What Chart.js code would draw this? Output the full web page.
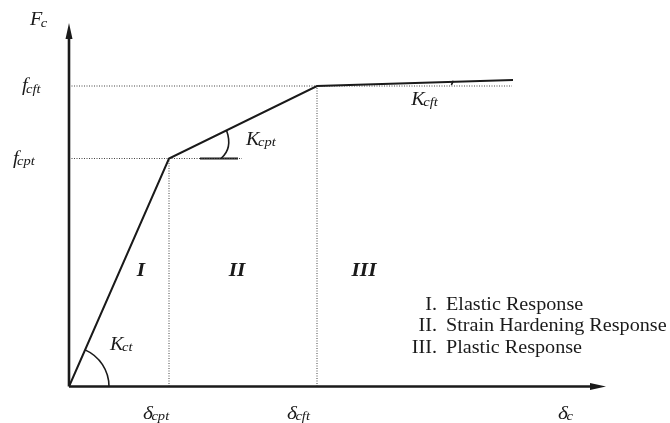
<!DOCTYPE html>
<html>
<head>
<meta charset="utf-8">
<script src="https://cdn.jsdelivr.net/npm/chart.js@4/dist/chart.umd.min.js"></script>
<style>
  html, body { margin: 0; padding: 0; background: #fff; }
  #wrap { width: 670px; height: 423px; }
</style>
</head>
<body>
<div id="wrap"><canvas id="chart"></canvas></div>
<script>
// schematic force-displacement curve (arbitrary units)
const displacement = [0, 10.0, 24.8, 44.4];
const force = [0, 22.8, 30.05, 30.65];

// tick labels [main, subscript]
const xTickLabels = [['δ', 'cpt'], ['δ', 'cft']];
const yTickLabels = [['f', 'cpt'], ['f', 'cft']];
const xTitle = ['δ', 'c'];
const yTitle = ['F', 'c'];

const stiffnessLabels = [['K', 'ct'], ['K', 'cpt'], ['K', 'cft']];
const regionLabels = ['I', 'II', 'III'];
const legendNumerals = ['I.', 'II.', 'III.'];
const legendItems = ['Elastic Response', 'Strain Hardening Response', 'Plastic Response'];

const X_MAX = 53.7;
const Y_MAX = 36.35;
const SERIF = '"Liberation Serif", "Times New Roman", serif';
const STRETCH = 1.12; // the figure's text is slightly wide

const curve = displacement.map((d, i) => ({ x: d, y: force[i] }));

const guide = (points) => ({
  data: points,
  borderColor: '#444',
  borderWidth: 1,
  borderDash: [1, 1.5],
  pointRadius: 0,
});

function wideText(ctx, text, x, y, align) {
  const w = ctx.measureText(text).width * STRETCH;
  let left = x;
  if (align === 'right') left = x - w;
  if (align === 'center') left = x - w / 2;
  ctx.save();
  ctx.translate(left, y);
  ctx.scale(STRETCH, 1);
  ctx.textAlign = 'left';
  ctx.fillText(text, 0, 0);
  ctx.restore();
  return w;
}

function subText(ctx, pair, x, y, size, subSize) {
  ctx.font = `italic ${size}px ${SERIF}`;
  const w = wideText(ctx, pair[0], x, y);
  ctx.font = `italic ${subSize}px ${SERIF}`;
  wideText(ctx, pair[1], x + w - 1.5, y + 1.5);
}

const annotations = {
  id: 'annotations',
  afterDatasetsDraw(chart) {
    const { ctx, scales: { x, y } } = chart;
    const px = (v) => x.getPixelForValue(v);
    const py = (v) => y.getPixelForValue(v);
    const ox = px(0), oy = py(0);
    const xEnd = px(X_MAX), yEnd = py(Y_MAX);

    ctx.save();
    ctx.fillStyle = '#1a1a1a';
    ctx.strokeStyle = '#1a1a1a';

    // axes with arrows
    ctx.lineWidth = 2.6;
    ctx.beginPath();
    ctx.moveTo(ox, oy);
    ctx.lineTo(xEnd - 10, oy);
    ctx.moveTo(ox, oy);
    ctx.lineTo(ox, yEnd + 10);
    ctx.stroke();
    ctx.beginPath();
    ctx.moveTo(xEnd, oy);
    ctx.lineTo(xEnd - 16, oy - 3.5);
    ctx.lineTo(xEnd - 16, oy + 3.5);
    ctx.closePath();
    ctx.moveTo(ox, yEnd);
    ctx.lineTo(ox - 3.5, yEnd + 16);
    ctx.lineTo(ox + 3.5, yEnd + 16);
    ctx.closePath();
    ctx.fill();

    // angle arc at origin (K_ct)
    const k1 = { x: px(displacement[1]), y: py(force[1]) };
    const a1 = Math.atan2(k1.y - oy, k1.x - ox);
    ctx.lineWidth = 1.6;
    ctx.beginPath();
    ctx.arc(ox, oy, 40, a1, 0);
    ctx.stroke();

    // angle arc at first kink (K_cpt)
    const k2 = { x: px(displacement[2]), y: py(force[2]) };
    const a2 = Math.atan2(k2.y - k1.y, k2.x - k1.x);
    ctx.beginPath();
    ctx.moveTo(k1.x + 64 * Math.cos(a2), k1.y + 64 * Math.sin(a2));
    ctx.quadraticCurveTo(k1.x + 64, k1.y - 10, k1.x + 52, k1.y);
    ctx.stroke();

    // small angle mark on plastic branch (K_cft)
    const k3 = { x: px(displacement[3]), y: py(force[3]) };
    const mx = k2.x + 0.69 * (k3.x - k2.x);
    const my = k2.y + 0.69 * (k3.y - k2.y);
    ctx.beginPath();
    ctx.moveTo(mx + 1, my - 1);
    ctx.quadraticCurveTo(mx, my + 2, mx - 1, my + 3);
    ctx.stroke();

    // axis titles and tick labels
    subText(ctx, yTitle, ox - 39, yEnd + 2, 18, 13);
    subText(ctx, xTitle, xEnd - 48, oy + 32, 19, 13);
    subText(ctx, yTickLabels[0], ox - 56, py(force[1]) + 5, 18, 13);
    subText(ctx, yTickLabels[1], ox - 47, py(force[2]) + 5, 18, 13);
    subText(ctx, xTickLabels[0], px(displacement[1]) - 26, oy + 32, 19, 13);
    subText(ctx, xTickLabels[1], px(displacement[2]) - 30, oy + 32, 19, 13);

    // stiffness labels
    subText(ctx, stiffnessLabels[0], ox + 41, oy - 37, 18, 13);
    subText(ctx, stiffnessLabels[1], k1.x + 77, k1.y - 14, 18, 13);
    subText(ctx, stiffnessLabels[2], mx - 41, my + 23, 18, 13);

    // region numerals
    ctx.font = `italic bold 19px ${SERIF}`;
    const regionX = [(ox + k1.x) / 2 + 22, (k1.x + k2.x) / 2 - 6, (k2.x + k3.x) / 2 - 51];
    regionLabels.forEach((t, i) => wideText(ctx, t, regionX[i], oy - 111, 'center'));

    // legend
    ctx.font = `18px ${SERIF}`;
    legendItems.forEach((t, i) => {
      const by = oy - 77 + i * 21.5;
      wideText(ctx, legendNumerals[i], 437, by, 'right');
      wideText(ctx, t, 446, by);
    });

    ctx.restore();
  }
};

new Chart(document.getElementById('chart'), {
  type: 'line',
  data: {
    datasets: [
      {
        data: curve,
        borderColor: '#1a1a1a',
        borderWidth: 2,
        pointRadius: 0,
        tension: 0,
      },
      guide([{ x: 0, y: force[1] }, { x: 17.3, y: force[1] }]),
      guide([{ x: 0, y: force[2] }, { x: 44.3, y: force[2] }]),
      guide([{ x: displacement[1], y: 0 }, { x: displacement[1], y: force[1] }]),
      guide([{ x: displacement[2], y: 0 }, { x: displacement[2], y: force[2] }]),
      {
        data: [{ x: 13.1, y: force[1] }, { x: 16.9, y: force[1] }],
        borderColor: '#1a1a1a',
        borderWidth: 2,
        pointRadius: 0,
      },
    ]
  },
  options: {
    responsive: true,
    maintainAspectRatio: false,
    animation: false,
    layout: { padding: { left: 69, right: 64, top: 23, bottom: 36.5 } },
    plugins: {
      legend: { display: false },
      tooltip: { enabled: false },
    },
    scales: {
      x: { type: 'linear', min: 0, max: X_MAX, display: false },
      y: { type: 'linear', min: 0, max: Y_MAX, display: false },
    }
  },
  plugins: [annotations]
});
</script>
</body>
</html>
